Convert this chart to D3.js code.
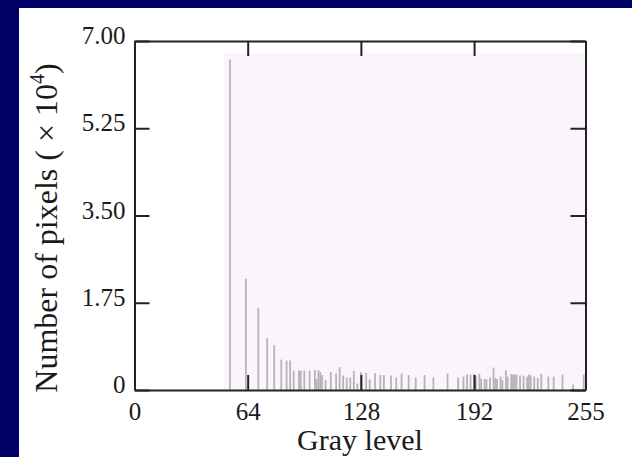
<!DOCTYPE html>
<html>
<head>
<meta charset="utf-8">
<script src="https://cdn.jsdelivr.net/npm/d3@7"></script>
<style>
  body { margin: 0; background: #000066; }
  svg { display: block; }
  text { font-family: "Liberation Serif", "Times New Roman", serif; fill: #1a1a1a; }
</style>
</head>
<body>
<svg width="632" height="457"></svg>
<script>
// histogram values, number of pixels in units of 10^4
const grayLevels = [54, 63, 70, 75, 79, 83, 86, 88, 90, 93, 94, 96, 99, 102, 103, 104, 105, 106, 108,
  111, 114, 116, 118, 120, 122, 124, 126, 128, 131, 133, 136, 139, 141, 145, 148, 151, 155, 159,
  164, 169, 177, 183, 186, 188, 190, 192, 193, 195, 196, 198, 199, 201, 203, 204, 205, 207, 208,
  210, 211, 213, 214, 215, 216, 218, 220, 222, 223, 224, 226, 228, 230, 234, 237, 242, 248, 254]
const pixelCounts = [6.63, 2.23, 1.64, 1.04, 0.90, 0.61, 0.59, 0.59, 0.39, 0.39, 0.39, 0.39, 0.39, 0.40, 0.22, 0.40, 0.36, 0.30, 0.20,
  0.36, 0.33, 0.46, 0.29, 0.25, 0.25, 0.38, 0.13, 0.36, 0.34, 0.21, 0.34, 0.30, 0.30, 0.29, 0.25, 0.33, 0.30, 0.25,
  0.30, 0.25, 0.33, 0.25, 0.27, 0.31, 0.31, 0.32, 0.27, 0.32, 0.23, 0.22, 0.22, 0.25, 0.45, 0.24, 0.22, 0.27, 0.20,
  0.39, 0.27, 0.32, 0.31, 0.31, 0.31, 0.29, 0.29, 0.27, 0.31, 0.29, 0.27, 0.24, 0.32, 0.27, 0.27, 0.31, 0.11, 0.31]
const xTicks = [0, 64, 128, 192, 255]
const yTicks = [0, 1.75, 3.5, 5.25, 7]

const svg = d3.select('svg')

// white slide panel
svg.append('rect').attr('x', 19).attr('y', 8).attr('width', 613).attr('height', 449).attr('fill', '#fff')

const x = d3.scaleLinear().domain([0, 255]).range([134.5, 585.5])
const y = d3.scaleLinear().domain([0, 7]).range([390, 41])

// pinkish tint behind the bars
svg.append('rect')
    .attr('x', x(50.6)).attr('y', y(6.76))
    .attr('width', x(255) - x(50.6)).attr('height', y(0) - y(6.76))
    .attr('fill', '#fcf4fc')

svg.append('g')
    .selectAll('line')
    .data(grayLevels)
    .enter()
    .append('line')
    .attr('x1', d => x(d)).attr('x2', d => x(d))
    .attr('y1', y(0))
    .attr('y2', (d, i) => y(pixelCounts[i]))
    .attr('stroke', '#b4b4b4')
    .attr('stroke-width', 1.8)

const fmtY = d => d === 0 ? '0' : d.toFixed(2)

const styleAxis = g => {
    g.selectAll('path, line').attr('stroke', '#222').attr('stroke-width', 2)
    g.selectAll('text').attr('font-size', 25).attr('fill', '#1a1a1a')
        .attr('font-family', '"Liberation Serif", "Times New Roman", serif')
}

svg.append('g').attr('transform', `translate(0,${y(0)})`)
    .call(d3.axisBottom(x).tickValues(xTicks).tickSizeInner(-15).tickSizeOuter(0).tickPadding(12))
    .call(styleAxis)
svg.append('g').attr('transform', `translate(0,${y(7)})`)
    .call(d3.axisTop(x).tickValues(xTicks).tickSizeInner(-15).tickSizeOuter(0).tickFormat(''))
    .call(styleAxis)
svg.append('g').attr('transform', `translate(${x(0)},0)`)
    .call(d3.axisLeft(y).tickValues(yTicks).tickSizeInner(-15).tickSizeOuter(0).tickPadding(9).tickFormat(fmtY))
    .call(styleAxis)
    .selectAll('text').attr('dy', '0.1em')
svg.append('g').attr('transform', `translate(${x(255)},0)`)
    .call(d3.axisRight(y).tickValues(yTicks).tickSizeInner(-15).tickSizeOuter(0).tickFormat(''))
    .call(styleAxis)

svg.append('text')
    .attr('x', (x(0) + x(255)) / 2).attr('y', 450)
    .attr('text-anchor', 'middle')
    .attr('font-size', 30)
    .text('Gray level')

const yTitle = svg.append('text')
    .attr('transform', 'translate(57,228) rotate(-90)')
    .attr('text-anchor', 'middle')
    .attr('font-size', 32)
yTitle.append('tspan').text('Number of pixels ( × 10')
yTitle.append('tspan').attr('font-size', 20).attr('dy', -13).text('4')
yTitle.append('tspan').attr('dy', 13).text(')')
</script>
</body>
</html>
